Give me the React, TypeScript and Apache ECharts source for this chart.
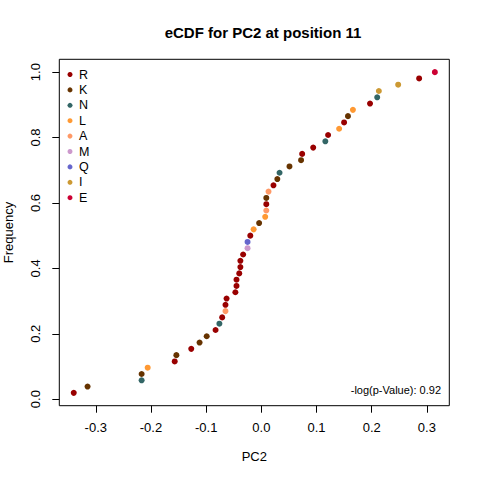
import React, { useEffect, useRef } from "react";
import * as echarts from "echarts";

const residues = ["R", "K", "N", "L", "A", "M", "Q", "I", "E"];
const residueColors = ["#990000", "#663300", "#336666", "#FF9933", "#FF9966", "#CC99CC", "#6666CC", "#CC9933", "#CC0033"];

// sorted PC2 values (eCDF order) and the residue of each point
const pc2Values = [
  -0.340, -0.315, -0.217, -0.217, -0.206, -0.157, -0.154, -0.127, -0.112, -0.099,
  -0.083, -0.076, -0.071, -0.065, -0.065, -0.063, -0.047, -0.045, -0.045, -0.040,
  -0.038, -0.038, -0.033, -0.025, -0.025, -0.020, -0.014, -0.004, 0.007, 0.009,
  0.009, 0.009, 0.013, 0.022, 0.029, 0.033, 0.051, 0.072, 0.074, 0.094,
  0.116, 0.121, 0.141, 0.150, 0.157, 0.166, 0.197, 0.210, 0.213, 0.248,
  0.286, 0.3145,
];
const pc2Residues = [
  "R", "K", "N", "K", "L", "R", "K", "R", "K", "K",
  "R", "N", "R", "A", "R", "R", "R", "R", "R", "R",
  "R", "R", "R", "M", "Q", "R", "L", "K", "L", "A",
  "R", "K", "A", "R", "K", "N", "K", "K", "R", "R",
  "N", "R", "L", "R", "K", "L", "R", "N", "I", "I",
  "R", "E",
];
const xTicks = [-0.3, -0.2, -0.1, 0.0, 0.1, 0.2, 0.3];
const yTicks = [0.0, 0.2, 0.4, 0.6, 0.8, 1.0];
const pValueText = "-log(p-Value): 0.92";

const FONT = "Liberation Sans, Arial, sans-serif";

export default function App() {
  const ref = useRef<HTMLDivElement>(null);
  useEffect(() => {
    if (!ref.current) return;
    const chart = echarts.init(ref.current, undefined, { renderer: "svg" });
    const n = pc2Values.length;
    const series = residues.map((res, k) => ({
      name: res,
      type: "scatter",
      symbol: "circle",
      symbolSize: 6,
      itemStyle: { color: residueColors[k], opacity: 1 },
      data: pc2Values
        .map((v, i) => [v, (i + 1) / n, pc2Residues[i]])
        .filter((d) => d[2] === res)
        .map((d) => [d[0], d[1]]),
    }));
    const xMin = pc2Values[0] - 0.04 * (pc2Values[n - 1] - pc2Values[0]);
    const xMax = pc2Values[n - 1] + 0.04 * (pc2Values[n - 1] - pc2Values[0]);
    const yLo = 1 / n;
    const yMin = yLo - 0.04 * (1 - yLo);
    const yMax = 1 + 0.04 * (1 - yLo);
    chart.setOption({
      animation: false,
      backgroundColor: "#ffffff",
      textStyle: { fontFamily: FONT },
      title: {
        text: "eCDF for PC2 at position 11",
        left: 258,
        top: 20,
        textAlign: "center",
        textStyle: { fontFamily: FONT, fontWeight: "bold", fontSize: 15, color: "#000" },
      },
      grid: {
        left: 59.3,
        right: 30.7,
        top: 59.3,
        bottom: 74.3,
        show: true,
        containLabel: false,
        outerBoundsMode: "none",
        borderColor: "#000",
        borderWidth: 1,
        backgroundColor: "transparent",
      },
      legend: {
        orient: "vertical",
        left: 62.5,
        top: 63,
        icon: "circle",
        itemWidth: 5,
        itemHeight: 5,
        itemGap: 2.4,
        data: residues,
        textStyle: { fontFamily: FONT, fontSize: 12.5, color: "#000", padding: [0, 0, 0, 1.5] },
        selectedMode: false,
      },
      xAxis: {
        type: "value",
        min: xMin,
        max: xMax,
        name: "PC2",
        nameLocation: "middle",
        nameGap: 44,
        nameTextStyle: { fontFamily: FONT, fontSize: 13, color: "#000" },
        axisLine: { show: false, onZero: false },
        splitLine: { show: false },
        axisTick: { show: true, customValues: xTicks, length: 7, lineStyle: { color: "#000" } },
        axisLabel: {
          customValues: xTicks,
          margin: 15.5,
          fontFamily: FONT,
          fontSize: 13,
          color: "#000",
          formatter: (v: number) => v.toFixed(1),
        },
      },
      yAxis: {
        type: "value",
        min: yMin,
        max: yMax,
        name: "Frequency",
        nameLocation: "middle",
        nameGap: 44,
        nameTextStyle: { fontFamily: FONT, fontSize: 13, color: "#000" },
        axisLine: { show: false, onZero: false },
        splitLine: { show: false },
        axisTick: { show: true, customValues: yTicks, length: 7, lineStyle: { color: "#000" } },
        axisLabel: {
          customValues: yTicks,
          rotate: 90,
          margin: 17,
          fontFamily: FONT,
          fontSize: 13,
          color: "#000",
          formatter: (v: number) => v.toFixed(1),
        },
      },
      graphic: [
        {
          type: "text",
          right: 39,
          top: 384,
          style: { text: pValueText, font: `11px ${FONT}`, fill: "#000" },
        },
      ],
      series,
    });
    return () => chart.dispose();
  }, []);
  return <div ref={ref} style={{ position: "absolute", left: 0, top: 0, width: 480, height: 480 }} />;
}
